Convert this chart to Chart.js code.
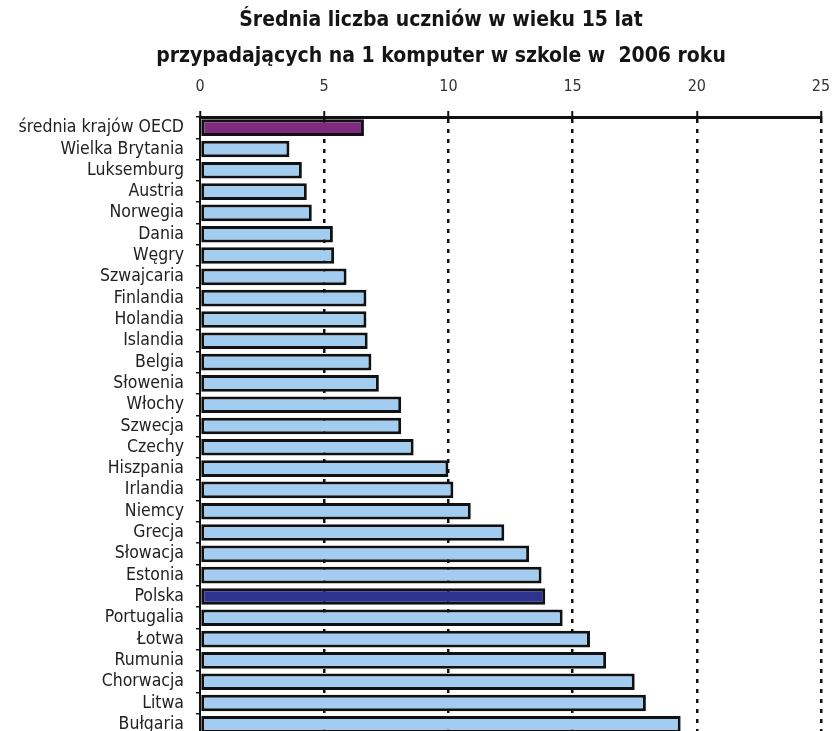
<!DOCTYPE html>
<html><head><meta charset="utf-8">
<script src="https://cdn.jsdelivr.net/npm/chart.js@4"></script>
<style>html,body{margin:0;padding:0;background:#fff;overflow:hidden}#wrap{width:833px;height:740px}</style>
</head><body><div id="wrap"><canvas id="c" width="833" height="740"></canvas></div>
<script>
const categories = ['średnia krajów OECD','Wielka Brytania','Luksemburg','Austria','Norwegia','Dania','Węgry','Szwajcaria','Finlandia','Holandia','Islandia','Belgia','Słowenia','Włochy','Szwecja','Czechy','Hiszpania','Irlandia','Niemcy','Grecja','Słowacja','Estonia','Polska','Portugalia','Łotwa','Rumunia','Chorwacja','Litwa','Bułgaria'];
const values = [6.6,3.6,4.1,4.3,4.5,5.35,5.4,5.9,6.7,6.7,6.75,6.9,7.2,8.1,8.1,8.6,10.0,10.2,10.9,12.25,13.25,13.75,13.9,14.6,15.7,16.35,17.5,17.95,19.35];
const tickValues = [0,5,10,15,20,25];
const titleLines = ['Średnia liczba uczniów w wieku 15 lat','przypadających na 1 komputer w szkole w  2006 roku'];
const averageLabel = 'średnia krajów OECD';
const highlightLabel = 'Polska';

const FONT = "'Liberation Sans Narrow','Arial Narrow','DejaVu Sans Condensed',sans-serif";
const colorFor = c => c === averageLabel ? '#7d2a7f' : (c === highlightLabel ? '#2e3290' : '#a3cdf0');

const titlePlugin = {
  id: 'twoLineTitle',
  afterDraw(chart) {
    const ctx = chart.ctx;
    ctx.save();
    ctx.fillStyle = '#151515';
    ctx.font = "bold 21px " + FONT;
    ctx.textAlign = 'center';
    ctx.textBaseline = 'middle';
    ctx.fillText(titleLines[0], 441, 21);
    ctx.fillText(titleLines[1], 441, 57);
    ctx.restore();
  }
};

new Chart(document.getElementById('c'), {
  type: 'bar',
  data: {
    labels: categories,
    datasets: [{
      data: values,
      backgroundColor: categories.map(colorFor),
      borderColor: '#111',
      borderWidth: 3,
      borderSkipped: false,
      barPercentage: 0.78,
      categoryPercentage: 1
    }]
  },
  plugins: [titlePlugin],
  options: {
    indexAxis: 'y',
    responsive: false,
    animation: false,
    layout: { padding: { left: 0, right: 12, top: 75, bottom: 5 } },
    plugins: {
      legend: { display: false },
      tooltip: { enabled: false },
      title: { display: false }
    },
    scales: {
      x: {
        position: 'top',
        min: 0, max: 25,
        afterBuildTicks: s => { s.ticks = tickValues.map(v => ({ value: v })); },
        afterFit: s => { s.height = 42; s.paddingLeft = 0; s.paddingRight = 0; },
        ticks: { font: { family: FONT, size: 16 }, color: '#333', padding: 15 },
        grid: {
          color: ctx => (ctx.tick && ctx.tick.value === 0) ? 'rgba(0,0,0,0)' : '#111',
          lineWidth: 2.5,
          tickLength: 6,
          tickColor: '#111',
          tickWidth: 2
        },
        border: { color: '#111', width: 3, dash: [4, 6] }
      },
      y: {
        afterFit: s => { s.width = 200; s.paddingTop = 0; s.paddingBottom = 0; },
        ticks: { font: { family: FONT, size: 17.5 }, color: '#222', padding: 12, autoSkip: false },
        grid: { drawOnChartArea: false, drawTicks: true, tickLength: 4, color: '#111', lineWidth: 1.5, offset: true },
        border: { color: '#111', width: 2 }
      }
    }
  }
});
</script>
</body></html>
